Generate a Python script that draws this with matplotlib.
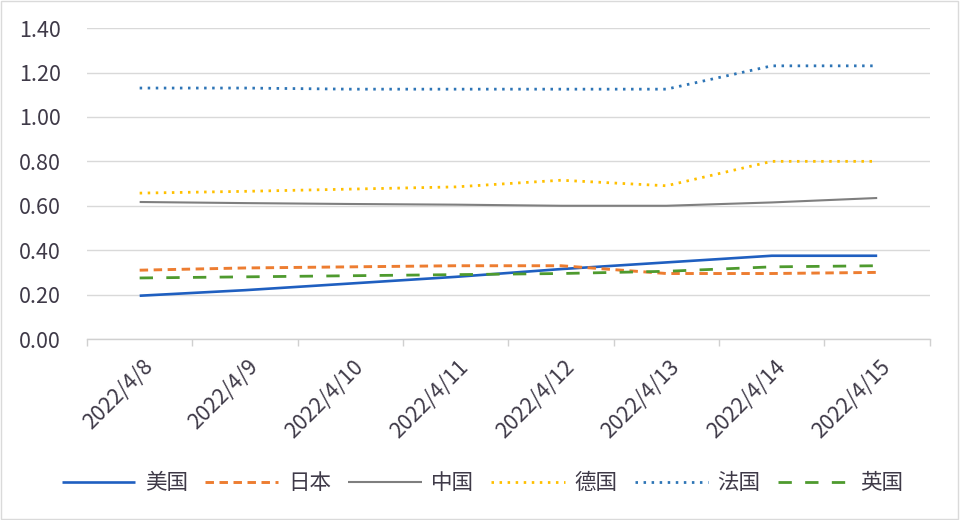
import matplotlib
matplotlib.use("Agg")
import matplotlib.pyplot as plt
from matplotlib.patches import Rectangle
from matplotlib.transforms import ScaledTranslation

plt.rcParams['font.family'] = ['Noto Sans CJK SC', 'DejaVu Sans']
plt.rcParams['font.weight'] = 'light'

dates = ["2022/4/8", "2022/4/9", "2022/4/10", "2022/4/11",
         "2022/4/12", "2022/4/13", "2022/4/14", "2022/4/15"]
us = [0.195, 0.22, 0.25, 0.28, 0.315, 0.345, 0.375, 0.375]
japan = [0.31, 0.32, 0.325, 0.33, 0.33, 0.295, 0.295, 0.30]
china = [0.617, 0.612, 0.608, 0.605, 0.60, 0.60, 0.615, 0.635]
germany = [0.657, 0.665, 0.675, 0.685, 0.715, 0.69, 0.80, 0.80]
france = [1.13, 1.13, 1.125, 1.125, 1.125, 1.125, 1.23, 1.23]
uk = [0.275, 0.28, 0.285, 0.29, 0.295, 0.305, 0.325, 0.33]
yticks = [0.0, 0.2, 0.4, 0.6, 0.8, 1.0, 1.2, 1.4]

series = [
    ("美国", us, dict(color="#1F5FC0", lw=1.9, ls="-")),
    ("日本", japan, dict(color="#ED7D31", lw=2.1, ls=(0, (2.9, 1.9)))),
    ("中国", china, dict(color="#7F7F7F", lw=1.5, ls="-")),
    ("德国", germany, dict(color="#FFC000", lw=2.0, ls=(0, (0.9, 2.0)))),
    ("法国", france, dict(color="#2E75B6", lw=2.0, ls=(0, (0.9, 2.0)))),
    ("英国", uk, dict(color="#4E9A2E", lw=2.0, ls=(0, (4.8, 4.8)))),
]

fig = plt.figure(figsize=(9.6, 5.2), dpi=100)
ax = fig.add_axes([0.0906, 0.348, 0.878, 0.598])

x = list(range(len(dates)))
for name, vals, st in series:
    ax.plot(x, vals, label=name, solid_capstyle='butt', dash_capstyle='butt', **st)

ax.set_xlim(-0.5, len(dates) - 0.5)
ax.set_ylim(0, 1.4)
ax.set_yticks(yticks)
ax.set_yticklabels([f"{v:.2f}" for v in yticks])
ax.yaxis.grid(True, color="#D9D9D9", lw=1.0)
ax.set_axisbelow(True)
for s in ["top", "right", "left"]:
    ax.spines[s].set_visible(False)
ax.spines["bottom"].set_color("#D0D0D0")
ax.spines["bottom"].set_linewidth(1.0)

ax.set_xticks(x)
ax.set_xticklabels(dates, rotation=45, ha="right", va="top", rotation_mode="anchor")
ax.set_xticks([i - 0.5 for i in range(len(dates) + 1)], minor=True)
ax.tick_params(axis="x", which="major", length=0, pad=12, labelsize=15.5, labelcolor="#3F3A48")
ax.tick_params(axis="x", which="minor", length=5, color="#D0D0D0", width=1)
ax.tick_params(axis="y", length=0, pad=19, labelsize=15.5, labelcolor="#3F3A48")
off = ScaledTranslation(2 / 100, 0, fig.dpi_scale_trans)
for lab in ax.get_xticklabels():
    lab.set_transform(lab.get_transform() + off)

leg = fig.legend(loc="center", bbox_to_anchor=(0.503, 0.071), ncol=6, frameon=False,
                 handlelength=3.4, handletextpad=0.45, columnspacing=0.8,
                 prop={'size': 15.5, 'weight': 'light'})
for t in leg.get_texts():
    t.set_color("#3F3A48")

fig.patches.append(Rectangle((0.001, 0.002), 0.997, 0.996, transform=fig.transFigure,
                             fill=False, edgecolor="#DADADA", lw=1.0))

fig.savefig("out.png", dpi=100)
